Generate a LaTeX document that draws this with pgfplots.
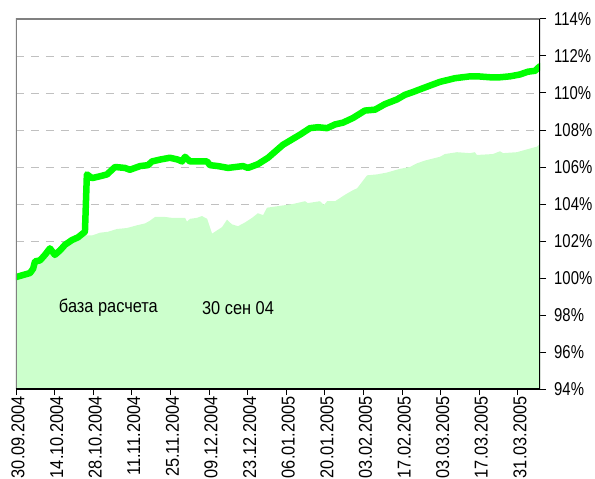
\documentclass[border=0pt]{standalone}
\usepackage{fontspec}
\setmainfont{Liberation Sans}[FakeStretch=0.88]
\newfontfamily\narrowfont{Liberation Sans}[FakeStretch=0.8]
\usepackage{pgfplots}
\pgfplotsset{compat=1.18}
\definecolor{linegreen}{HTML}{00FF00}
\definecolor{areagreen}{HTML}{CCFFCC}
\definecolor{framegray}{HTML}{808080}
\definecolor{gridgray}{HTML}{C0C0C0}

\begin{document}
\fontsize{18.6bp}{21bp}\selectfont
\begin{tikzpicture}
\begin{axis}[
    scale only axis,
    width=524bp, height=370bp,
    xmin=0, xmax=190,
    ymin=94, ymax=114,
    axis line style={draw=none},
    xtick={0,14,...,182},
    xticklabels={30.09.2004,14.10.2004,28.10.2004,11.11.2004,25.11.2004,09.12.2004,23.12.2004,06.01.2005,20.01.2005,03.02.2005,17.02.2005,03.03.2005,17.03.2005,31.03.2005},
    xtick pos=bottom,
    xticklabel style={rotate=90, anchor=east, inner sep=1bp, yshift=-2bp},
    ytick={94,96,...,114},
    yticklabels={94\%,96\%,98\%,100\%,102\%,104\%,106\%,108\%,110\%,112\%,114\%},
    ytick pos=right,
    yticklabel style={anchor=west, inner sep=1bp, xshift=7bp, font=\narrowfont},
    tick align=outside,
    major tick length=6bp,
    tick style={black, line width=1pt},
    ymajorgrids,
    grid style={gridgray, dashed, line width=0.9pt, dash pattern=on 8bp off 7bp},
    clip=true,
]
% light area
\addplot[draw=none, fill=areagreen] coordinates {
(0,100) (5.1,100.2) (6.9,100.7) (10.5,101.0) (12.3,101.35) (14.1,101.15)
(17.8,101.6) (20.3,101.9) (22.5,102.05) (25.0,102.3) (27.6,102.3) (30.5,102.45)
(33.4,102.5) (36.6,102.65) (40.2,102.7) (43.9,102.85) (46.8,102.95) (48.6,103.1)
(50.4,103.3) (54.0,103.3) (56.6,103.25) (61.3,103.25) (62.0,103.05) (63.1,103.2)
(65.6,103.25) (67.4,103.35) (69.3,103.2) (70.3,102.75) (71.1,102.4) (74.7,102.75)
(76.5,103.15) (78.3,102.9) (80.5,102.8) (83.0,103.0) (85.6,103.25) (87.7,103.5)
(89.6,103.4) (91.0,103.8) (95.7,103.9) (100.4,104.0) (104.8,104.15) (105.8,104.05)
(108.0,104.1) (110.2,104.15) (111.7,103.95) (112.8,104.15) (115.7,104.15) (119.3,104.5)
(122.2,104.75) (123.7,104.85) (125.5,105.2) (127.3,105.55) (130.9,105.6) (134.5,105.7)
(139.2,105.9) (142.8,106.0) (145.4,106.2) (148.3,106.35) (153.7,106.55) (155.5,106.7)
(159.9,106.8) (164.6,106.75) (166.4,106.8) (167.1,106.65) (172.9,106.7) (175.5,106.85)
(176.6,106.75) (181.6,106.8) (186.4,107.0) (188.9,107.1) (190,107.25)
} \closedcycle;
% main line
\addplot[linegreen, line width=6.5bp, line join=round, line cap=round] coordinates {
(0,100.05) (5.1,100.27) (6.2,100.5) (6.9,100.9) (8.7,100.95) (10.5,101.25)
(12.3,101.6) (14.1,101.25) (16.0,101.5) (17.8,101.8) (20.3,102.05) (22.5,102.2)
(25.0,102.5) (25.7,105.6) (27.6,105.4) (30.5,105.5) (33.0,105.6) (35.9,106.0)
(39.5,105.95) (41.3,105.85) (45.0,106.05) (47.9,106.1) (49.3,106.3) (52.2,106.4)
(55.8,106.5) (58.7,106.4) (60.2,106.3) (61.3,106.55) (63.1,106.3) (69.3,106.3)
(70.3,106.1) (73.2,106.05) (76.9,105.95) (82.3,106.05) (84.1,105.95) (87.7,106.15)
(91.4,106.5) (96.8,107.2) (103.0,107.75) (106.6,108.1) (109.5,108.15) (112.8,108.1)
(115.7,108.3) (118.6,108.4) (122.2,108.65) (126.5,109.05) (130.2,109.1) (133.8,109.4)
(138.1,109.65) (141.0,109.9) (143.9,110.05) (148.3,110.3) (153.7,110.6) (159.2,110.8)
(164.6,110.9) (167.5,110.9) (171.9,110.85) (175.5,110.85) (179.1,110.9) (182.7,111.0)
(185.6,111.15) (188.2,111.2) (190,111.45)
};
\node at (axis cs:33.5,98.4) {база расчета};
\node at (axis cs:80.5,98.4) {30 сен 04};
% frame: gray top/left, black bottom/right
\draw[framegray, line width=1.6bp] (rel axis cs:0,0) -- (rel axis cs:0,1) -- (rel axis cs:1,1);
\draw[black, line width=1.2bp] (rel axis cs:0,0) -- (rel axis cs:1,0) -- (rel axis cs:1,1);
\coordinate (sw) at (rel axis cs:0,0);
\coordinate (ne) at (rel axis cs:1,1);
\end{axis}
\pgfresetboundingbox
\path[use as bounding box] ([xshift=-16bp,yshift=-90bp]sw) rectangle ([xshift=55bp,yshift=19bp]ne);
\end{tikzpicture}
\end{document}
